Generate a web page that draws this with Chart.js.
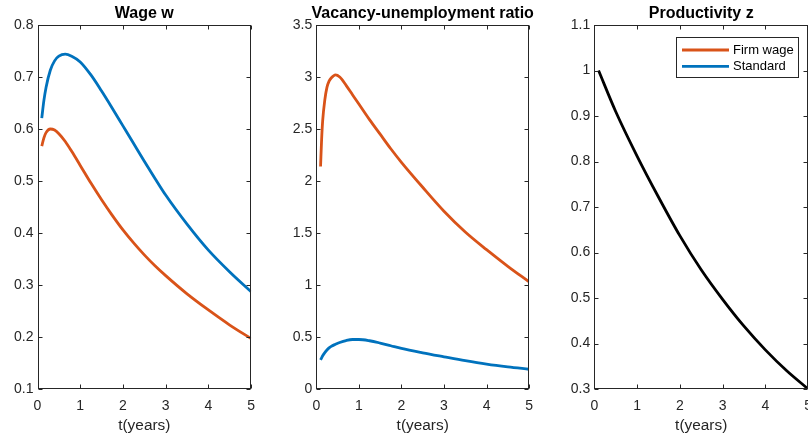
<!DOCTYPE html>
<html>
<head>
<meta charset="utf-8">
<script src="https://cdn.jsdelivr.net/npm/chart.js@4.4.0/dist/chart.umd.min.js"></script>
<style>
    html, body { margin: 0; padding: 0; width: 808px; height: 438px; overflow: hidden; background: #fff; }
    canvas { position: absolute; top: 0; }
</style>
</head>
<body>
<canvas id="wage_chart" width="264" height="438" style="left:0px"></canvas>
<canvas id="ratio_chart" width="266" height="438" style="left:276px"></canvas>
<canvas id="prod_chart" width="267" height="438" style="left:554px"></canvas>
<script>
// time grid (years) and series
var tWage = [0.1, 0.15, 0.2, 0.3, 0.4, 0.5, 0.65, 0.8, 1.0, 1.25, 1.5, 1.75, 2.0, 2.25, 2.5, 2.75, 3.0, 3.5, 4.0, 4.5, 5.0];
var wageFirm = [0.567, 0.583, 0.593, 0.600, 0.598, 0.591, 0.576, 0.557, 0.530, 0.496, 0.464, 0.434, 0.406, 0.381, 0.358, 0.337, 0.318, 0.283, 0.252, 0.223, 0.197];
var wageStd = [0.621, 0.655, 0.680, 0.713, 0.731, 0.740, 0.744, 0.740, 0.729, 0.704, 0.673, 0.640, 0.606, 0.572, 0.538, 0.505, 0.473, 0.417, 0.367, 0.325, 0.287];

var tRatio = [0.1, 0.125, 0.15, 0.2, 0.25, 0.3, 0.35, 0.45, 0.55, 0.7, 0.85, 1.0, 1.25, 1.5, 1.75, 2.0, 2.5, 3.0, 3.5, 4.0, 4.5, 5.0];
var ratioFirm = [2.14, 2.40, 2.58, 2.78, 2.90, 2.96, 2.99, 3.02, 3.00, 2.92, 2.83, 2.74, 2.59, 2.45, 2.31, 2.18, 1.94, 1.71, 1.51, 1.34, 1.18, 1.03];
var ratioStd = [0.28, 0.30, 0.32, 0.35, 0.375, 0.395, 0.41, 0.43, 0.447, 0.466, 0.476, 0.476, 0.464, 0.442, 0.416, 0.390, 0.348, 0.310, 0.273, 0.240, 0.213, 0.190];

var tProd = [0.1, 0.5, 1.0, 1.5, 2.0, 2.5, 3.0, 3.5, 4.0, 4.5, 5.0];
var prodZ = [1.0, 0.91, 0.812, 0.722, 0.637, 0.562, 0.497, 0.438, 0.386, 0.340, 0.300];

// tick labels
var xTicks = [0, 1, 2, 3, 4, 5];
var wageTicks = [0.1, 0.2, 0.3, 0.4, 0.5, 0.6, 0.7, 0.8];
var ratioTicks = [0, 0.5, 1, 1.5, 2, 2.5, 3, 3.5];
var prodTicks = [0.3, 0.4, 0.5, 0.6, 0.7, 0.8, 0.9, 1, 1.1];

var FONT = "'Liberation Sans', Arial, Helvetica, sans-serif";
var ORANGE = '#D95319';
var BLUE = '#0072BD';
var AXIS = '#262626';

function pts(t, v) {
    return t.map(function(x, i) { return {x: x, y: v[i]}; });
}

function fmt(v) {
    return String(Math.round(v * 10) / 10);
}

function line(label, t, v, color) {
    return {
        label: label,
        data: pts(t, v),
        borderColor: color,
        backgroundColor: color,
        borderWidth: 2.8,
        pointRadius: 0,
        fill: false,
        cubicInterpolationMode: 'monotone'
    };
}

// matlab style box with inward ticks on all four sides
var framePlugin = {
    id: 'frame',
    afterDatasetsDraw: function(chart) {
        var ctx = chart.ctx, a = chart.chartArea;
        var L = Math.round(a.left) + 0.5, R = Math.round(a.right) - 0.5;
        var T = Math.round(a.top) + 0.5, B = Math.round(a.bottom) - 0.5;
        var xs = chart.scales.x, ys = chart.scales.y;
        ctx.save();
        ctx.strokeStyle = AXIS;
        ctx.lineWidth = 1;
        ctx.strokeRect(L, T, R - L, B - T);
        ctx.beginPath();
        xs.ticks.forEach(function(t) {
            var x = Math.round(xs.getPixelForValue(t.value)) + 0.5;
            ctx.moveTo(x, B); ctx.lineTo(x, B - 4);
            ctx.moveTo(x, T); ctx.lineTo(x, T + 4);
        });
        ys.ticks.forEach(function(t) {
            var y = Math.round(ys.getPixelForValue(t.value)) + 0.5;
            ctx.moveTo(L, y); ctx.lineTo(L + 4, y);
            ctx.moveTo(R, y); ctx.lineTo(R - 4, y);
        });
        ctx.stroke();
        ctx.restore();
    }
};

// title centred over the plot box (may overhang it, like matlab)
var panelTitle = {
    id: 'panelTitle',
    afterDraw: function(chart, args, opts) {
        var ctx = chart.ctx, a = chart.chartArea;
        ctx.save();
        ctx.font = 'bold 16px ' + FONT;
        ctx.fillStyle = '#000';
        ctx.textAlign = 'center';
        ctx.textBaseline = 'alphabetic';
        ctx.fillText(opts.text, (a.left + a.right) / 2, 18);
        ctx.restore();
    }
};

// legend box drawn inside the plot, top right
var boxLegend = {
    id: 'boxLegend',
    afterDraw: function(chart) {
        var items = chart.data.datasets.filter(function(d) { return d.inLegend; });
        if (!items.length) return;
        var ctx = chart.ctx, a = chart.chartArea;
        var w = 122, h = 40;
        var left = Math.round(a.right - 10 - w) + 0.5, top = Math.round(a.top + 11.7) + 0.5;
        ctx.save();
        ctx.fillStyle = '#fff';
        ctx.fillRect(left, top, w, h);
        ctx.strokeStyle = AXIS;
        ctx.lineWidth = 1;
        ctx.strokeRect(left, top, w, h);
        ctx.font = '13px ' + FONT;
        ctx.textBaseline = 'middle';
        ctx.textAlign = 'left';
        items.forEach(function(d, i) {
            var y = top + 12.5 + i * 16.4;
            ctx.strokeStyle = d.borderColor;
            ctx.lineWidth = 2.8;
            ctx.beginPath();
            ctx.moveTo(left + 5.5, y);
            ctx.lineTo(left + 52.5, y);
            ctx.stroke();
            ctx.fillStyle = '#000';
            ctx.fillText(d.label, left + 56.5, y);
        });
        ctx.restore();
    }
};

function panelOptions(title, yTicks, yWidth) {
    return {
        responsive: false,
        animation: false,
        layout: {padding: {left: 0, right: 8, top: 25, bottom: 0}},
        plugins: {
            legend: {display: false},
            tooltip: {enabled: false},
            title: {display: false},
            panelTitle: {text: title}
        },
        scales: {
            x: {
                type: 'linear',
                min: 0,
                max: 5,
                grid: {display: false, drawTicks: false},
                border: {display: false},
                afterBuildTicks: function(s) { s.ticks = xTicks.map(function(v) { return {value: v}; }); },
                afterFit: function(s) { s.height = 49; },
                ticks: {color: AXIS, padding: 9, maxRotation: 0, font: {family: FONT, size: 14}, callback: fmt},
                title: {display: true, text: 't(years)', color: AXIS, font: {family: FONT, size: 15.4}, padding: {top: 0, bottom: 3}}
            },
            y: {
                type: 'linear',
                min: yTicks[0],
                max: yTicks[yTicks.length - 1],
                grid: {display: false, drawTicks: false},
                border: {display: false},
                afterBuildTicks: function(s) { s.ticks = yTicks.map(function(v) { return {value: v}; }); },
                afterFit: function(s) { s.width = yWidth; },
                ticks: {color: AXIS, padding: 4, font: {family: FONT, size: 14}, callback: fmt}
            }
        }
    };
}

// Wage w
new Chart(document.getElementById('wage_chart').getContext('2d'), {
    type: 'line',
    data: {datasets: [
        line('Firm wage', tWage, wageFirm, ORANGE),
        line('Standard', tWage, wageStd, BLUE)
    ]},
    options: panelOptions('Wage w', wageTicks, 37.5),
    plugins: [framePlugin, panelTitle]
});

// Vacancy-unemployment ratio
new Chart(document.getElementById('ratio_chart').getContext('2d'), {
    type: 'line',
    data: {datasets: [
        line('Firm wage', tRatio, ratioFirm, ORANGE),
        line('Standard', tRatio, ratioStd, BLUE)
    ]},
    options: panelOptions('Vacancy-unemployment ratio', ratioTicks, 40.3),
    plugins: [framePlugin, panelTitle]
});

// Productivity z (legend lives here)
var firmKey = line('Firm wage', [], [], ORANGE);
firmKey.inLegend = true;
var stdKey = line('Standard', [], [], BLUE);
stdKey.inLegend = true;
new Chart(document.getElementById('prod_chart').getContext('2d'), {
    type: 'line',
    data: {datasets: [
        firmKey,
        stdKey,
        line('Productivity z', tProd, prodZ, '#000')
    ]},
    options: panelOptions('Productivity z', prodTicks, 40.3),
    plugins: [framePlugin, panelTitle, boxLegend]
});
</script>
</body>
</html>
